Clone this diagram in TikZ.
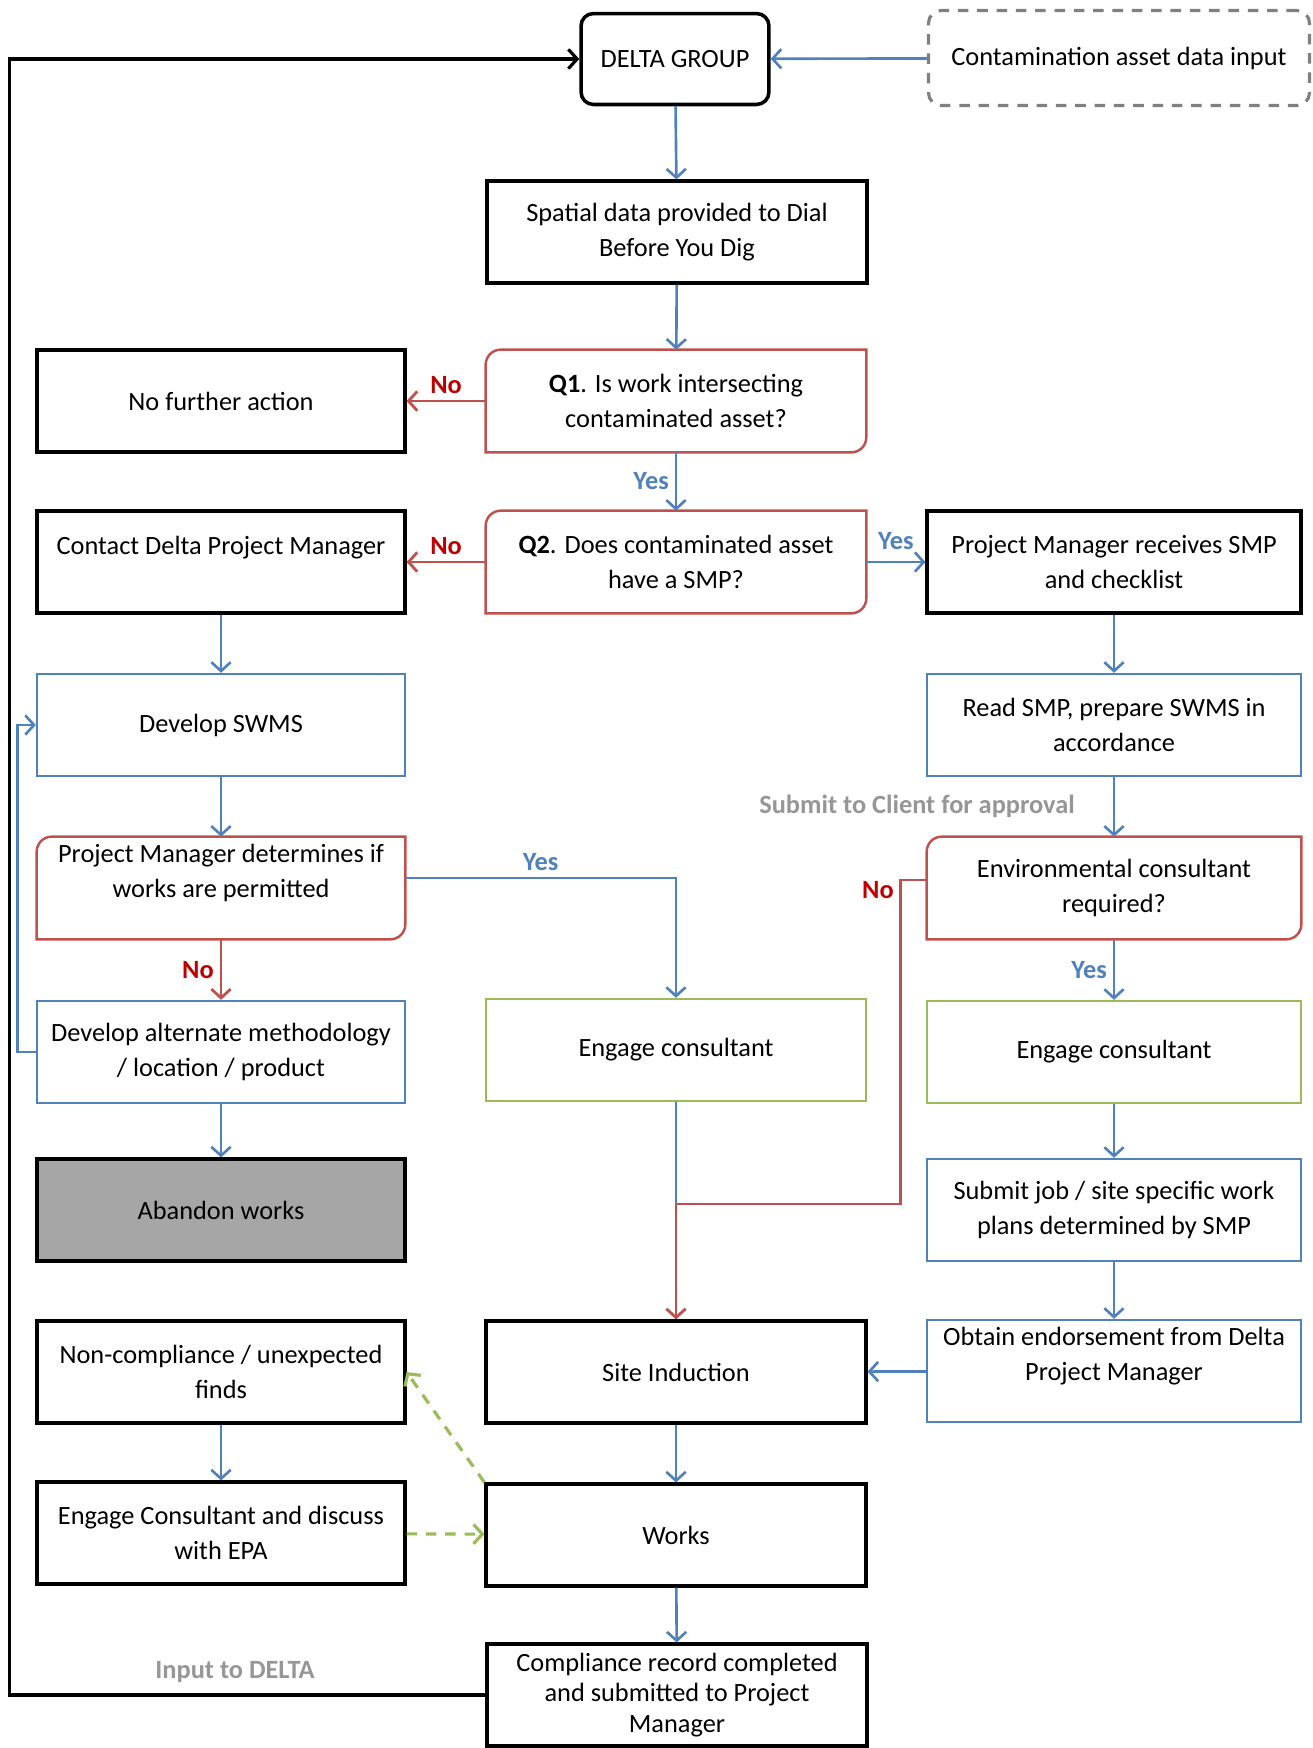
\documentclass[tikz,border=0pt]{standalone}
\usepackage{fontspec}
\setmainfont{Carlito}
\definecolor{flowblue}{RGB}{79, 129, 189}
\definecolor{flowred}{RGB}{192, 80, 77}
\definecolor{flowgreen}{RGB}{155, 187, 89}
\definecolor{nored}{RGB}{192, 0, 0}
\definecolor{notegray}{RGB}{150, 150, 150}
\definecolor{boxgray}{RGB}{166, 166, 166}
\usetikzlibrary{arrows.meta, positioning, calc}

\begin{document}
\begin{tikzpicture}[x=0.02cm, y=-0.02cm,
  font=\fontsize{15}{19.5}\selectfont,
  box/.style={minimum height=2.04cm, align=center, inner sep=2pt},
  lcol/.style={box, minimum width=7.36cm},
  mcol/.style={box, minimum width=7.6cm},
  rcol/.style={box, minimum width=7.48cm},
  blk/.style={draw=black, line width=1.8pt},
  blu/.style={draw=flowblue, line width=1.4pt},
  grn/.style={draw=flowgreen, line width=1.4pt},
  flow/.style={flowblue, line width=1.5pt, -{Straight Barb[length=5pt, width=11pt]}},
  noflow/.style={flowred, line width=1.6pt, -{Straight Barb[length=5pt, width=11pt]}},
  greenflow/.style={flowgreen, line width=1.8pt, dash pattern=on 6pt off 5pt, -{Straight Barb[length=5pt, width=11pt]}},
  nolbl/.style={font=\fontsize{15}{18}\selectfont\bfseries, text=nored},
  yeslbl/.style={font=\fontsize{15}{18}\selectfont\bfseries, text=flowblue},
  notelbl/.style={font=\fontsize{15}{18}\selectfont\bfseries, text=notegray}
]
  \useasboundingbox (0,0) rectangle (1312,1748);

  % Top
  \node[draw, line width=2pt, rounded corners=0.25cm, minimum width=3.76cm, minimum height=1.82cm] (delta) at (675,59) {DELTA GROUP};
  \node[draw=gray, line width=1.8pt, dash pattern=on 6pt off 5pt, rounded corners=0.25cm, minimum width=7.62cm, minimum height=1.9cm] (cont) at (1119,58) {Contamination asset data input};
  \node[mcol, blk] (spatial) at (677,232) {Spatial data provided to Dial\\Before You Dig};

  % Questions
  \node[lcol, blk] (nfa) at (221,401) {No further action};
  \node[mcol] (q1) at (676,401) {\textbf{Q1}. Is work intersecting\\contaminated asset?};
  \node[lcol, blk] (contact) at (221,562) {Contact Delta Project Manager\\\mbox{}};
  \node[mcol] (q2) at (676,562) {\textbf{Q2}. Does contaminated asset\\have a SMP?};
  \node[rcol, blk] (pmrec) at (1114,562) {Project Manager receives SMP\\and checklist};

  % Left and right branches
  \node[lcol, blu] (swms) at (221,725) {Develop SWMS};
  \node[rcol, blu] (readsmp) at (1114,725) {Read SMP, prepare SWMS in\\accordance};
  \node[lcol] (pmdet) at (221,888) {Project Manager determines if\\works are permitted\\\mbox{}};
  \node[rcol] (envreq) at (1114,888) {Environmental consultant\\required?};
  \node[lcol, blu] (alt) at (221,1052) {Develop alternate methodology\\/ location / product};
  \node[mcol, grn] (eng1) at (676,1050) {Engage consultant};
  \node[rcol, grn] (eng2) at (1114,1052) {Engage consultant};
  \node[lcol, blk, fill=boxgray] (abandon) at (221,1210) {Abandon works};
  \node[rcol, blu] (submitjob) at (1114,1210) {Submit job / site specific work\\plans determined by SMP};

  % Bottom
  \node[lcol, blk] (noncomp) at (221,1372) {Non-compliance / unexpected\\finds};
  \node[mcol, blk] (site) at (676,1372) {Site Induction};
  \node[rcol, blu] (obtain) at (1114,1371) {Obtain endorsement from Delta\\Project Manager\\\mbox{}};
  \node[lcol, blk] (epa) at (221,1533) {Engage Consultant and discuss\\with EPA};
  \node[mcol, blk] (works) at (676,1535) {Works};
  \node[mcol, blk, font=\fontsize{15}{17.5}\selectfont] (comp) at (677,1695) {Compliance record completed\\and submitted to Project\\Manager};

  % decision outlines
  \foreach \n in {q1,q2,pmdet,envreq}
    \draw[flowred, line width=1.4pt] (\n.south west) -- ([yshift=-0.3cm]\n.north west)
      arc[start angle=180, end angle=90, radius=0.3cm] -- (\n.north east)
      -- ([yshift=0.3cm]\n.south east) arc[start angle=0, end angle=-90, radius=0.3cm] -- cycle;

  % Connectors
  \draw[flow] (cont) -- (delta);
  \draw[flow] (delta) -- (spatial);
  \draw[flow] (spatial) -- (q1);
  \draw[noflow] (q1) -- node[nolbl, above] (noq1) {No} (nfa);
  \draw[flow] (q1) -- node[yeslbl, left] (yesq1) {Yes} (q2);
  \draw[noflow] (q2) -- node[nolbl, above] (noq2) {No} (contact);
  \draw[flow] (q2) -- node[yeslbl, above, yshift=3pt] (yesq2) {Yes} (pmrec);
  \draw[flow] (contact) -- (swms);
  \draw[flow] (pmrec) -- (readsmp);
  \draw[flow] (swms) -- (pmdet);
  \draw[flow] (readsmp) -- (envreq);
  \node[notelbl] (submitnote) at (917,806) {Submit to Client for approval};
  \draw[flow] ([yshift=0.2cm]pmdet.east) -| node[yeslbl, pos=0.25, above] (yespm) {Yes} (eng1.north);
  \draw[noflow] (pmdet) -- node[nolbl, left] (nopm) {No} (alt);
  \draw[flow] (alt) -- (abandon);
  \draw[flow] (alt.west) -- ++(-18,0) |- (swms.west);
  \draw[flow] (envreq) -- node[yeslbl, left] (yesenv) {Yes} (eng2);
  \draw[flow] (eng2) -- (submitjob);
  \draw[flow] (submitjob) -- (obtain);
  \draw[flow] (obtain) -- (site);

  % consultant paths join above site induction
  \coordinate (join) at (676,1204);
  \draw[flowblue, line width=1.5pt] (eng1) -- (join);
  \draw[noflow] ([yshift=0.16cm]envreq.west) -- ++(-26,0) |- (join) -- (site);
  \node[nolbl] (noenv) at (878,890) {No};

  \draw[flow] (site) -- (works);
  \draw[flow] (works) -- (comp);
  \draw[flow] (noncomp) -- (epa);
  \draw[greenflow] (works.north west) -- (noncomp.east);
  \draw[greenflow] (epa) -- (works);

  % feedback to DELTA
  \draw[line width=1.8pt, -{Straight Barb[length=5pt, width=11pt]}] (comp.west) -- ++(-476,0) |- (delta.west);
  \node[notelbl] (inputnote) at (235,1672) {Input to DELTA};
\end{tikzpicture}
\end{document}
